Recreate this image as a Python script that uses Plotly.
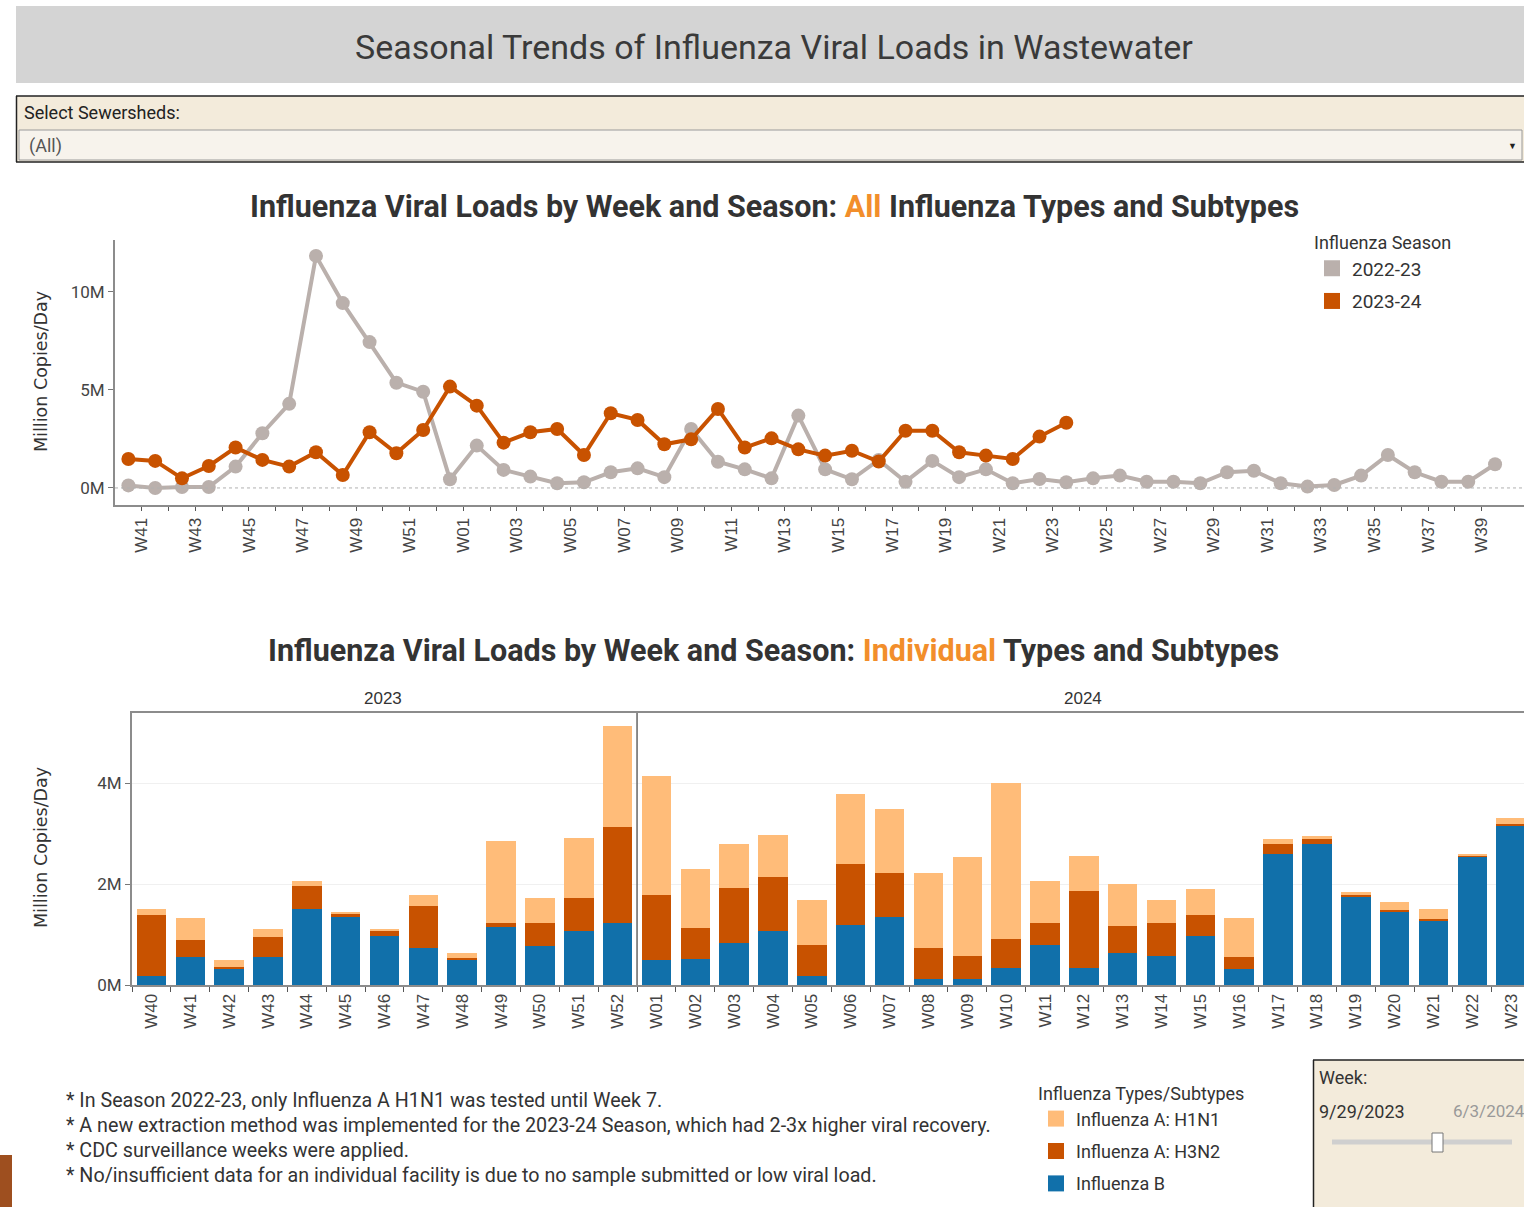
import plotly.graph_objects as go

# ---------------- DATA ----------------
line_weeks = ["W40", "W41", "W42", "W43", "W44", "W45", "W46", "W47", "W48", "W49", "W50", "W51", "W52",
              "W01", "W02", "W03", "W04", "W05", "W06", "W07", "W08", "W09", "W10", "W11", "W12", "W13",
              "W14", "W15", "W16", "W17", "W18", "W19", "W20", "W21", "W22", "W23", "W24", "W25", "W26",
              "W27", "W28", "W29", "W30", "W31", "W32", "W33", "W34", "W35", "W36", "W37", "W38", "W39"]
line_tick_labels = ["W41", "", "W43", "", "W45", "", "W47", "", "W49", "", "W51", "", "W01", "", "W03", "",
                    "W05", "", "W07", "", "W09", "", "W11", "", "W13", "", "W15", "", "W17", "", "W19", "",
                    "W21", "", "W23", "", "W25", "", "W27", "", "W29", "", "W31", "", "W33", "", "W35", "",
                    "W37", "", "W39"]
season_2022_23 = [0.13, 0.00, 0.05, 0.05, 1.09, 2.79, 4.29, 11.84, 9.43, 7.44, 5.37, 4.91, 0.44,
                  2.16, 0.92, 0.58, 0.24, 0.29, 0.80, 1.00, 0.55, 3.01, 1.34, 0.95, 0.49, 3.69,
                  0.95, 0.44, 1.43, 0.32, 1.38, 0.55, 0.95, 0.24, 0.46, 0.29, 0.49, 0.63, 0.32,
                  0.32, 0.24, 0.80, 0.88, 0.24, 0.07, 0.15, 0.63, 1.68, 0.80, 0.32, 0.32, 1.21]
season_2023_24 = [1.48, 1.38, 0.49, 1.12, 2.06, 1.43, 1.09, 1.82, 0.66, 2.84, 1.77, 2.96, 5.17,
                  4.20, 2.31, 2.84, 3.01, 1.68, 3.81, 3.47, 2.23, 2.48, 4.03, 2.06, 2.53, 1.97,
                  1.65, 1.90, 1.35, 2.92, 2.92, 1.82, 1.65, 1.48, 2.62, 3.33]
line_y_ticks = [0, 5, 10]
line_y_labels = ["0M", "5M", "10M"]

bar_weeks = ["W40", "W41", "W42", "W43", "W44", "W45", "W46", "W47", "W48", "W49", "W50", "W51", "W52",
             "W01", "W02", "W03", "W04", "W05", "W06", "W07", "W08", "W09", "W10", "W11", "W12", "W13",
             "W14", "W15", "W16", "W17", "W18", "W19", "W20", "W21", "W22", "W23"]
flu_b = [0.18, 0.55, 0.31, 0.55, 1.50, 1.35, 0.98, 0.74, 0.50, 1.14, 0.77, 1.08, 1.23,
         0.50, 0.52, 0.83, 1.08, 0.18, 1.19, 1.35, 0.12, 0.12, 0.34, 0.79, 0.34, 0.64,
         0.58, 0.98, 0.31, 2.59, 2.80, 1.75, 1.45, 1.27, 2.55, 3.17]
flu_h3n2 = [1.21, 0.34, 0.05, 0.41, 0.47, 0.05, 0.10, 0.82, 0.04, 0.09, 0.46, 0.64, 1.90,
            1.28, 0.61, 1.10, 1.07, 0.62, 1.21, 0.86, 0.62, 0.46, 0.58, 0.44, 1.53, 0.53,
            0.65, 0.40, 0.24, 0.21, 0.09, 0.03, 0.03, 0.04, 0.01, 0.03]
flu_h1n1 = [0.11, 0.43, 0.13, 0.14, 0.09, 0.05, 0.02, 0.22, 0.10, 1.63, 0.49, 1.20, 2.01,
            2.37, 1.17, 0.87, 0.83, 0.89, 1.38, 1.27, 1.47, 1.95, 3.08, 0.83, 0.68, 0.83,
            0.46, 0.53, 0.77, 0.09, 0.06, 0.06, 0.16, 0.19, 0.03, 0.10]
bar_y_ticks = [0, 2, 4]
bar_y_labels = ["0M", "2M", "4M"]
year_headers = ["2023", "2024"]
footnotes = [
    "* In Season 2022-23, only Influenza A H1N1 was tested until Week 7.",
    "* A new extraction method was implemented for the 2023-24 Season, which had 2-3x higher viral recovery.",
    "* CDC surveillance weeks were applied.",
    "* No/insufficient data for an individual facility is due to no sample submitted or low viral load.",
]

# ---------------- STYLE ----------------
REF_W, REF_H = 1524, 1207      # reference picture size (layout positions are given in these pixels)
FW, FH = 1524, 1217            # figure size in the page
GRAY_LINE = "#bab0ac"
ORANGE_LINE = "#c85200"
C_H1N1 = "#ffbc79"
C_H3N2 = "#c85200"
C_B = "#1170aa"
TXT = "#333333"
FONT = "Roboto, Liberation Sans, Arial, sans-serif"
REG = "Liberation Sans, Arial, sans-serif"


def px(x):
    return min(max(x / REF_W, 0), 1)


def py(y):
    return min(max(1 - y / REF_H, 0), 1)


fig = go.Figure()

# ---------------- LINE CHART ----------------
fig.add_trace(go.Scatter(
    x=list(range(len(season_2022_23))), y=season_2022_23, mode="lines+markers",
    line=dict(color=GRAY_LINE, width=4), marker=dict(color=GRAY_LINE, size=14),
    showlegend=False, xaxis="x", yaxis="y", hoverinfo="y"))
fig.add_trace(go.Scatter(
    x=list(range(len(season_2023_24))), y=season_2023_24, mode="lines+markers",
    line=dict(color=ORANGE_LINE, width=4), marker=dict(color=ORANGE_LINE, size=14),
    showlegend=False, xaxis="x", yaxis="y", hoverinfo="y"))
for name, col in [("2022-23", GRAY_LINE), ("2023-24", ORANGE_LINE)]:
    fig.add_trace(go.Scatter(x=[None], y=[None], mode="markers", name=name, legendgroup=name,
                             marker=dict(symbol="square", size=16, color=col),
                             legend="legend", xaxis="x", yaxis="y"))

# ---------------- BAR CHART ----------------
bar_series = [("Influenza B", flu_b, C_B),
              ("Influenza A: H3N2", flu_h3n2, C_H3N2),
              ("Influenza A: H1N1", flu_h1n1, C_H1N1)]
for name, vals, col in bar_series:
    fig.add_trace(go.Bar(x=bar_weeks, y=vals, name=name, marker=dict(color=col, line=dict(width=0)),
                         width=0.76, xaxis="x2", yaxis="y2", showlegend=False))
for name, vals, col in reversed(bar_series):
    fig.add_trace(go.Scatter(x=[None], y=[None], mode="markers", name=name, legendgroup=name,
                             marker=dict(symbol="square", size=16, color=col),
                             legend="legend2", xaxis="x2", yaxis="y2"))

fig.update_layout(
    width=FW, height=FH, margin=dict(l=0, r=0, t=0, b=0),
    paper_bgcolor="white", plot_bgcolor="white", barmode="stack",
    font=dict(family=FONT, color=TXT),
    xaxis=dict(domain=[px(115), 1], range=[-0.5, 52.08], anchor="y", showgrid=False, zeroline=False,
               showline=True, linecolor="#8c8c8c", linewidth=2,
               tickmode="array", tickvals=[i + 0.5 for i in range(len(line_tick_labels))],
               ticktext=line_tick_labels, ticks="outside", ticklen=4, tickcolor="#555",
               tickangle=-90, tickfont=dict(family=REG, size=17, color="#444")),
    yaxis=dict(domain=[py(505), py(240)], range=[-0.87, 12.65], anchor="x", showgrid=False, zeroline=False,
               showline=True, linecolor="#8c8c8c", linewidth=2,
               tickmode="array", tickvals=line_y_ticks, ticktext=line_y_labels,
               ticks="outside", ticklen=5, tickcolor="#777",
               tickfont=dict(family=FONT, size=17, color="#444")),
    xaxis2=dict(domain=[px(132), 1], type="category", range=[-0.5, 35.33], anchor="y2", showgrid=False,
                showline=True, mirror=True, linecolor="#8c8c8c", linewidth=2, zeroline=False,
                tickson="boundaries", ticks="outside", ticklen=5, tickcolor="#555",
                tickangle=-90, tickfont=dict(family=REG, size=17, color="#444")),
    yaxis2=dict(domain=[py(985), py(713)], range=[0, 5.39], anchor="x2", showgrid=True, gridcolor="#f0f0f0",
                zeroline=False, showline=True, linecolor="#8c8c8c", linewidth=2,
                tickmode="array", tickvals=bar_y_ticks, ticktext=bar_y_labels,
                ticks="outside", ticklen=5, tickcolor="#777",
                tickfont=dict(family=FONT, size=17, color="#444")),
    legend=dict(title=dict(text="Influenza Season", font=dict(family=FONT, size=18, color="#333")),
                x=px(1312), y=py(226), xanchor="left", yanchor="top", bgcolor="rgba(0,0,0,0)",
                font=dict(family=FONT, size=19, color="#333"), tracegroupgap=5),
    legend2=dict(title=dict(text="Influenza Types/Subtypes", font=dict(family=FONT, size=18, color="#333")),
                 x=px(1036), y=py(1077), xanchor="left", yanchor="top", bgcolor="rgba(0,0,0,0)",
                 font=dict(family=FONT, size=18, color="#333"), tracegroupgap=6),
)

shapes = []
annotations = []


def hline(x0, x1, y, color="#222", width=1.5):
    shapes.append(dict(type="line", xref="paper", yref="paper", x0=px(x0), x1=px(x1), y0=py(y), y1=py(y),
                       line=dict(color=color, width=width)))


def vline(x, y0, y1, color="#222", width=1.5):
    shapes.append(dict(type="line", xref="paper", yref="paper", x0=px(x), x1=px(x), y0=py(y0), y1=py(y1),
                       line=dict(color=color, width=width)))


# title banner
shapes.append(dict(type="rect", xref="paper", yref="paper", x0=px(16), x1=1, y0=py(83), y1=py(6),
                   fillcolor="#d4d4d4", line=dict(width=0), layer="below"))
annotations.append(dict(text="Seasonal Trends of Influenza Viral Loads in Wastewater", xref="paper", yref="paper",
                        x=px(774), y=py(47), showarrow=False, xanchor="center", yanchor="middle",
                        font=dict(family=FONT, size=34, color="#3a3a3a")))

# filter box
shapes.append(dict(type="rect", xref="paper", yref="paper", x0=px(16), x1=1, y0=py(162), y1=py(96),
                   fillcolor="#f3ebdb", line=dict(width=0), layer="below"))
shapes.append(dict(type="rect", xref="paper", yref="paper", x0=px(19), x1=px(1522), y0=py(160), y1=py(130),
                   fillcolor="#f7f3ec", line=dict(width=1, color="#9a9a9a"), layer="below"))
hline(16, 1524, 96)
hline(16, 1524, 162)
vline(16.5, 96, 162)
annotations.append(dict(text="Select Sewersheds:", xref="paper", yref="paper", x=px(22), y=py(112),
                        showarrow=False, xanchor="left", yanchor="middle",
                        font=dict(family=FONT, size=18, color="#222")))
annotations.append(dict(text="(All)", xref="paper", yref="paper", x=px(27), y=py(146),
                        showarrow=False, xanchor="left", yanchor="middle",
                        font=dict(family=FONT, size=18, color="#555")))
annotations.append(dict(text="▼", xref="paper", yref="paper", x=px(1512), y=py(146),
                        showarrow=False, xanchor="center", yanchor="middle",
                        font=dict(family=REG, size=9, color="#222")))

# chart titles
annotations.append(dict(
    text="Influenza Viral Loads by Week and Season: <span style='color:#f28e2b'>All</span> Influenza Types and Subtypes",
    xref="paper", yref="paper", x=px(774), y=py(207), showarrow=False, xanchor="center", yanchor="middle",
    font=dict(family=FONT, size=30.5, color="#333", weight=700)))
annotations.append(dict(
    text="Influenza Viral Loads by Week and Season: <span style='color:#f28e2b'>Individual</span> Types and Subtypes",
    xref="paper", yref="paper", x=px(773), y=py(650), showarrow=False, xanchor="center", yanchor="middle",
    font=dict(family=FONT, size=30.5, color="#333", weight=700)))

# axis titles
for yc in (372, 848):
    annotations.append(dict(text="Million Copies/Day", xref="paper", yref="paper", x=px(41), y=py(yc),
                            textangle=-90, showarrow=False, xanchor="center", yanchor="middle",
                            font=dict(family="DejaVu Sans", size=17.5, color="#333")))

# zero dotted line in line chart
shapes.append(dict(type="line", xref="x domain", yref="y", x0=0, x1=1, y0=0, y1=0,
                   line=dict(color="#b0b0b0", width=1, dash="dot")))

# year panel headers and divider
n_2023 = bar_weeks.index("W01")
annotations.append(dict(text=year_headers[0], xref="paper", yref="paper", x=px(383), y=py(698),
                        showarrow=False, xanchor="center", yanchor="middle",
                        font=dict(family=REG, size=17, color="#333")))
annotations.append(dict(text=year_headers[1], xref="paper", yref="paper", x=px(1083), y=py(698),
                        showarrow=False, xanchor="center", yanchor="middle",
                        font=dict(family=REG, size=17, color="#333")))
shapes.append(dict(type="line", xref="x2", yref="y2 domain", x0=n_2023 - 0.5, x1=n_2023 - 0.5, y0=0, y1=1,
                   line=dict(color="#666", width=1.5)))

# footnotes
for i, t in enumerate(footnotes):
    annotations.append(dict(text=t, xref="paper", yref="paper", x=px(64), y=py(1100 + 25 * i),
                            showarrow=False, xanchor="left", yanchor="middle",
                            font=dict(family=FONT, size=19.7, color="#333")))

# brown corner mark
shapes.append(dict(type="rect", xref="paper", yref="paper", x0=0, x1=px(12), y0=0, y1=py(1155),
                   fillcolor="#9e4f1f", line=dict(width=0)))

# week slider panel
shapes.append(dict(type="rect", xref="paper", yref="paper", x0=px(1313), x1=1, y0=0, y1=py(1060),
                   fillcolor="#f3ebdb", line=dict(width=0), layer="below"))
hline(1313, 1524, 1060)
vline(1313.5, 1060, 1207)
shapes.append(dict(type="line", xref="paper", yref="paper", x0=px(1332), x1=px(1512), y0=py(1142), y1=py(1142),
                   line=dict(color="#cfcfcf", width=5)))
shapes.append(dict(type="rect", xref="paper", yref="paper", x0=px(1432), x1=px(1443), y0=py(1152), y1=py(1133),
                   fillcolor="white", line=dict(width=1, color="#777")))
annotations.append(dict(text="Week:", xref="paper", yref="paper", x=px(1317), y=py(1077),
                        showarrow=False, xanchor="left", yanchor="middle",
                        font=dict(family=FONT, size=18, color="#333")))
annotations.append(dict(text="9/29/2023", xref="paper", yref="paper", x=px(1317), y=py(1111),
                        showarrow=False, xanchor="left", yanchor="middle",
                        font=dict(family=FONT, size=18, color="#333")))
annotations.append(dict(text="6/3/2024", xref="paper", yref="paper", x=px(1451), y=py(1111),
                        showarrow=False, xanchor="left", yanchor="middle",
                        font=dict(family=FONT, size=17, color="#999")))

fig.update_layout(shapes=shapes, annotations=annotations)
fig.write_html("out.html", config={"displayModeBar": False},
               post_script="document.body.style.margin='0';document.body.style.overflow='hidden';")
